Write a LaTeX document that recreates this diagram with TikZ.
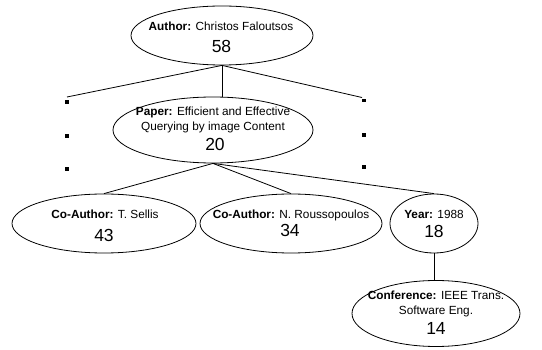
\documentclass[tikz,border=0pt]{standalone}
\usepackage{fontspec}
\setmainfont{Liberation Sans}
\usetikzlibrary{shapes.geometric}
\newcommand\myLbl{\fontsize{11.8}{14}\selectfont}
\newcommand\myNum{\fontsize{17.5}{20}\selectfont}
\begin{document}
\begin{tikzpicture}[x=1pt,y=1pt,
  ell/.style={draw, ellipse, line width=0.8pt, inner sep=0pt},
  lbl/.style={font=\myLbl, inner sep=0pt, text height=8.5pt, text depth=0pt},
  num/.style={font=\myNum, inner sep=0pt, text height=12.5pt, text depth=0pt},
  conn/.style={line width=0.8pt},
  dotsq/.style={fill=black}]
\useasboundingbox (0,0) rectangle (542,-350);
% ellipses
\node[ell, minimum width=182pt, minimum height=59pt] (A) at (222,-35.5) {};
\node[ell, minimum width=200pt, minimum height=66pt] (P) at (213,-130) {};
\node[ell, minimum width=184pt, minimum height=59pt] (C1) at (104,-223.5) {};
\node[ell, minimum width=182pt, minimum height=59pt] (C2) at (291,-223.5) {};
\node[ell, minimum width=88pt, minimum height=59pt] (Y) at (434,-223.5) {};
\node[ell, minimum width=168pt, minimum height=66pt] (F) at (436,-313.5) {};
% texts
\node[lbl] (A1) at (221,-26) {\textbf{Author:} Christos Faloutsos};
\node[num] (A2) at (221.5,-46) {58};
\node[lbl] (P1) at (213,-111) {\textbf{Paper:} Efficient and Effective};
\node[lbl] (P2) at (213,-126) {Querying by image Content};
\node[num] (P3) at (215,-144) {20};
\node[lbl] (C11) at (105,-214) {\textbf{Co-Author:} T. Sellis};
\node[num] (C12) at (104,-235) {43};
\node[lbl] (C21) at (291,-214) {\textbf{Co-Author:} N. Roussopoulos};
\node[num] (C22) at (290,-230) {34};
\node[lbl] (Y1) at (434,-214) {\textbf{Year:} 1988};
\node[num] (Y2) at (434,-231) {18};
\node[lbl] (F1) at (436,-295) {\textbf{Conference:} IEEE Trans.};
\node[lbl] (F2) at (436,-310) {Software Eng.};
\node[num] (F3) at (436,-328) {14};
% free ends
\coordinate (L) at (67,-97);
\coordinate (R) at (362,-97.5);
% connectors
\draw[conn] (A.south) -- (L);
\draw[conn] (A.south) -- (R);
\draw[conn] (A.south) -- (A.south |- P.north);
\draw[conn] (P.south) -- (C1.north);
\draw[conn] (P.south) -- (C2.north);
\draw[conn] (P.south) -- (Y.north);
\draw[conn] (Y.south) -- (Y.south |- F.north);
% dots
\foreach \yy in {102,136,169} \fill[dotsq] (65.2,-\yy-1.8) rectangle ++(3.6,3.6);
\foreach \yy in {100.5,135,167} \fill[dotsq] (362.2,-\yy-1.8) rectangle ++(3.6,3.6);
\end{tikzpicture}
\end{document}
